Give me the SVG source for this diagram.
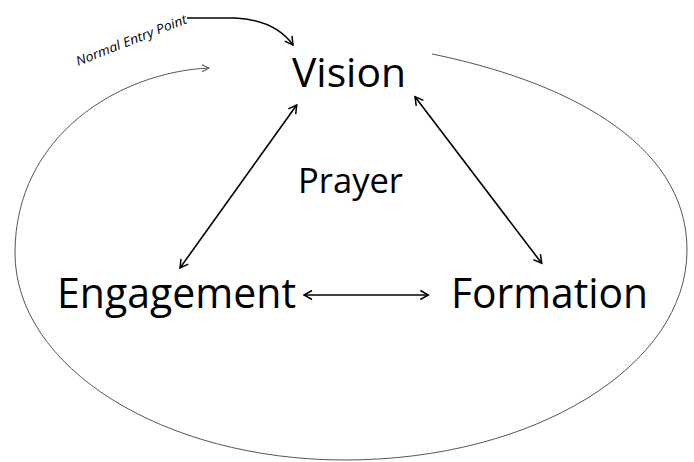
<svg xmlns="http://www.w3.org/2000/svg" width="694" height="462" viewBox="0 0 694 462">
<style>
.lbl{font-family:"Open Sans","Liberation Sans",sans-serif;fill:#000}
.conn{fill:none;stroke:#000;stroke-width:1.6}
.ring{fill:none;stroke:#555;stroke-width:1}
</style>
<defs>
<marker id="ah" markerUnits="userSpaceOnUse" markerWidth="12" markerHeight="12" viewBox="0 0 12 12" refX="10" refY="6" orient="auto-start-reverse">
<path d="M2,1.5 L10,6 L2,10.5" fill="none" stroke="#000" stroke-width="1.5"/>
</marker>
<marker id="ahs" markerUnits="userSpaceOnUse" markerWidth="12" markerHeight="12" viewBox="0 0 12 12" refX="10" refY="6" orient="auto">
<path d="M3,2.5 L10,6 L3,9.5" fill="none" stroke="#555" stroke-width="1"/>
</marker>
</defs>
<rect width="694" height="462" fill="#fff"/>
<g id="connectors">
<path class="ring" d="M432,54 C560,80 687,140 687,250 C687,366 534,460 345,460 C163,460 15,367 15,253 C15,135 120,72 209,68" marker-end="url(#ahs)"/>
<path class="conn" d="M187,18 L235,18 Q275,20 293,45" marker-end="url(#ah)"/>
<line class="conn" x1="296.7" y1="105" x2="180" y2="268" marker-start="url(#ah)" marker-end="url(#ah)"/>
<line class="conn" x1="415" y1="96.7" x2="541.7" y2="263.3" marker-start="url(#ah)" marker-end="url(#ah)"/>
<line class="conn" x1="304" y1="295" x2="428.3" y2="295" marker-start="url(#ah)" marker-end="url(#ah)"/>
</g>
<g id="vision"><text class="lbl" x="292" y="87.3" font-size="40.5" textLength="114" lengthAdjust="spacingAndGlyphs">Vision</text></g>
<g id="prayer"><text class="lbl" x="298" y="193.3" font-size="35" textLength="105" lengthAdjust="spacingAndGlyphs">Prayer</text></g>
<g id="engagement"><text class="lbl" x="57" y="308.3" font-size="42" textLength="239" lengthAdjust="spacingAndGlyphs">Engagement</text></g>
<g id="formation"><text class="lbl" x="451" y="308.3" font-size="42" textLength="197" lengthAdjust="spacingAndGlyphs">Formation</text></g>
<g id="entry"><text class="lbl" font-style="italic" font-size="13" transform="translate(78,66) rotate(-21.5)" textLength="118" lengthAdjust="spacingAndGlyphs">Normal Entry Point</text></g>
</svg>
